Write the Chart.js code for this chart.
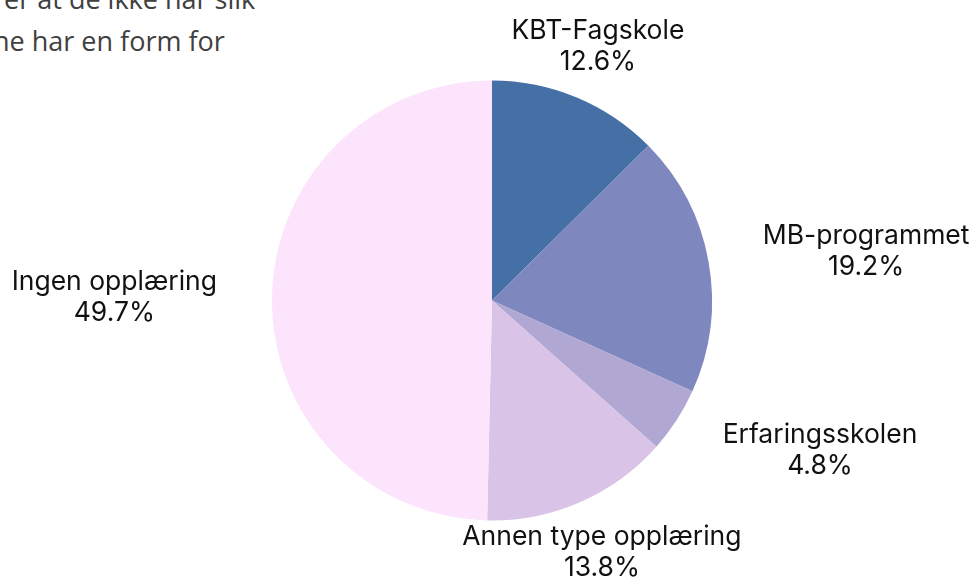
<!DOCTYPE html>
<html>
<head>
<meta charset="utf-8">
<script src="https://cdn.jsdelivr.net/npm/chart.js@4"></script>
<style>
  html, body { margin: 0; padding: 0; background: #fff; overflow: hidden; }
  .wrap { position: relative; width: 973px; height: 578px; }
  .bgtext {
    position: absolute; left: -7px; top: -22px;
    font-family: "Open Sans", sans-serif; font-size: 27px; line-height: 42px;
    color: #404040; white-space: nowrap;
  }
  canvas { position: absolute; left: 0; top: 0; }
</style>
</head>
<body>
<div class="wrap">
  <div class="bgtext">rer at de ikke har slik<br>ne har en form for</div>
  <canvas id="pie" width="973" height="578"></canvas>
</div>
<script>
const labels = ["KBT-Fagskole", "MB-programmet", "Erfaringsskolen", "Annen type opplæring", "Ingen opplæring"];
const values = [12.6, 19.2, 4.8, 13.8, 49.7];
const colors = ["#4470a6", "#7f87bf", "#b0a7d3", "#d9c4e7", "#fce4fc"];

// labels outside the pie, anchored by side
const outsideLabels = {
  id: 'outsideLabels',
  afterDatasetsDraw(chart) {
    const ctx = chart.ctx;
    const meta = chart.getDatasetMeta(0);
    ctx.save();
    ctx.font = '26.5px Inter, sans-serif';
    ctx.fillStyle = '#111';
    ctx.textBaseline = 'middle';
    meta.data.forEach((arc, i) => {
      const mid = (arc.startAngle + arc.endAngle) / 2;
      const d = arc.outerRadius + 55;
      const x = arc.x + Math.cos(mid) * d;
      const y = arc.y + Math.sin(mid) * d;
      const lines = [labels[i], values[i].toFixed(1) + '%'];
      const w = Math.max(...lines.map(t => ctx.measureText(t).width));
      let cx = x;
      if (Math.cos(mid) > 0.6) cx = x + w / 2;
      else if (Math.cos(mid) < -0.6) cx = x - w / 2;
      ctx.textAlign = 'center';
      ctx.fillText(lines[0], cx, y - 15.5);
      ctx.fillText(lines[1], cx, y + 15.5);
    });
    ctx.restore();
  }
};

new Chart(document.getElementById('pie'), {
  type: 'pie',
  data: {
    labels: labels,
    datasets: [{
      data: values,
      backgroundColor: colors,
      borderWidth: 0
    }]
  },
  options: {
    responsive: false,
    animation: false,
    layout: { padding: { left: 272, right: 261, top: 80, bottom: 57 } },
    plugins: {
      legend: { display: false },
      tooltip: { enabled: false }
    }
  },
  plugins: [outsideLabels]
});
</script>
</body>
</html>
